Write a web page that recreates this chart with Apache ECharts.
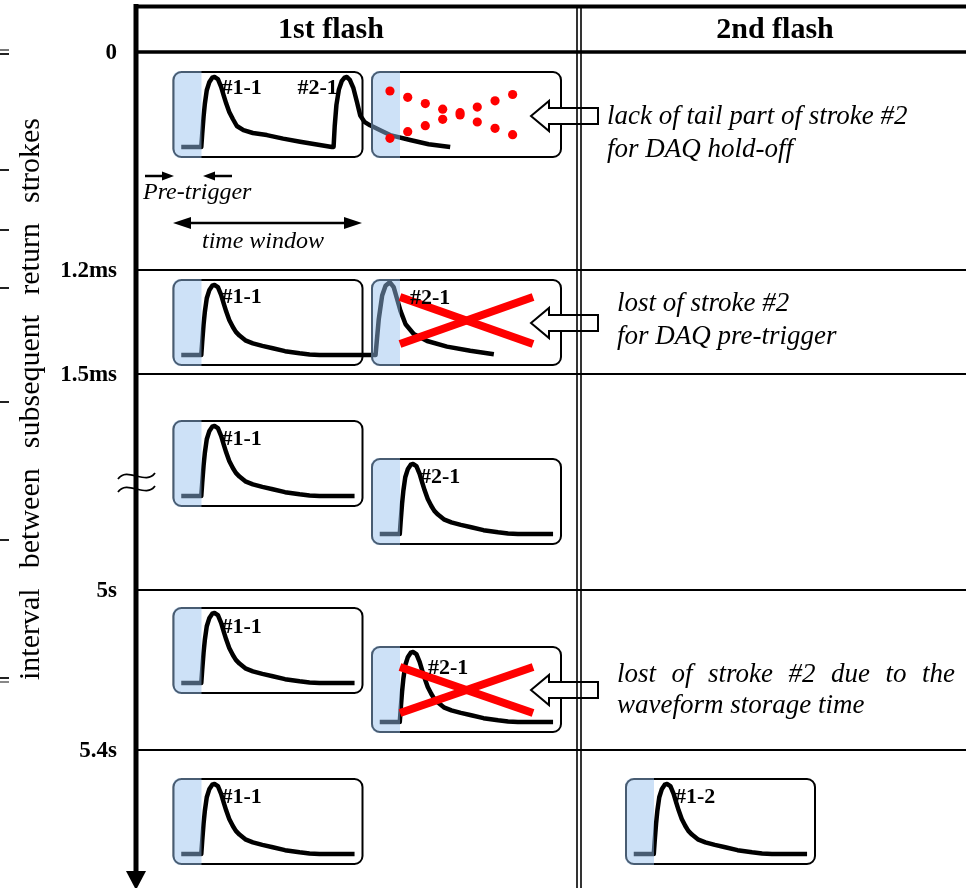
<!DOCTYPE html>
<html><head><meta charset="utf-8">
<script src="https://cdn.jsdelivr.net/npm/echarts@6/dist/echarts.min.js"></script>
<style>html,body{margin:0;padding:0;background:#fff}#c{width:972px;height:888px}</style>
</head><body><div id="c"></div>
<script>
// ---------------- data ----------------
const rowLabels = ['0', '1.2ms', '1.5ms', '5s', '5.4s'];
const flashHeaders = ['1st flash', '2nd flash'];
const axisTitle = 'interval between subsequent return strokes';
const strokeNames = ['#1-1', '#2-1', '#1-2'];
const noteLines = [
  ['lack of tail part of stroke #2', 'for DAQ hold-off'],
  ['lost of stroke #2', 'for DAQ pre-trigger'],
  ['lost of stroke #2 due to the', 'waveform storage time']
];
const preTriggerText = 'Pre-trigger';
const timeWindowText = 'time window';
// standard return-stroke waveform: time (% of window) / amplitude
const waveT = [4.1,14.7,15.2,15.9,16.6,17.6,19.0,20.5,21.7,23.5,25.2,26.5,27.9,29.5,31.4,33.0,34.9,38.0,42.0,47.0,52.5,59.0,66.7,72.0,77.2,95.8];
const waveA = [0,0,0.19,0.43,0.62,0.81,0.93,0.99,1.0,0.97,0.86,0.74,0.62,0.5,0.4,0.33,0.277,0.21,0.167,0.13,0.096,0.055,0.024,0.008,0,0];
// case 1 : stroke #2 inside the hold-off
const row1T = [4.1,14.7,15.2,15.9,16.6,17.6,19.0,20.5,21.7,23.5,25.2,26.5,27.9,29.5,31.4,33.5,37.0,42.0,49.4,58.0,67.0,75.0,83.8,84.7,85.3,86.2,87.5,89.0,90.5,91.7,93.3,95.2,97.0,98.8,101.0,104.0,109.4,114.6,125.2,135.0,146.4];
const row1A = [0,0,0.19,0.43,0.62,0.81,0.93,0.99,1.0,0.97,0.86,0.74,0.62,0.5,0.4,0.3,0.24,0.2,0.17,0.12,0.076,0.04,0,0,0.3,0.6,0.82,0.94,0.99,1.0,0.96,0.84,0.65,0.45,0.36,0.31,0.24,0.17,0.1,0.04,0];
// case 2 : stroke #2 inside the pre-trigger
const row2T = [4.1,14.7,15.2,15.9,16.6,17.6,19.0,20.5,21.7,23.5,25.2,26.5,27.9,29.5,31.4,33.0,34.9,38.0,42.0,47.0,52.5,59.0,66.7,72.0,77.2,106.9,108.6,110.4,112.2,114.4,116.5,118.3,120.1,122.8,127.1,134.2,144.7,157.0,169.5];
const row2A = [0,0,0.19,0.43,0.62,0.81,0.93,0.99,1.0,0.97,0.86,0.74,0.62,0.5,0.4,0.33,0.277,0.21,0.167,0.13,0.096,0.055,0.024,0.008,0,0,0.51,0.85,0.99,1.04,0.97,0.8,0.63,0.44,0.3,0.2,0.12,0.06,0.01];
// missing samples (red dots)
const dotT = [9.5,18.9,28.2,37.4,46.6,55.7,65.1,74.4];
const dotUpperA = [0.8,0.71,0.62,0.54,0.49,0.57,0.66,0.75];
const dotLowerA = [0.124,0.219,0.304,0.396,0.457,0.357,0.267,0.176];

// ---------------- layout ----------------
const SERIF = '"Liberation Serif", "Times New Roman", serif';
const F = {
  header: 'bold 30px ' + SERIF,
  row: 'bold 23px ' + SERIF,
  stroke: 'bold 22px ' + SERIF,
  note: 'italic 27px ' + SERIF,
  small: 'italic 24px ' + SERIF,
  title: '30px ' + SERIF
};
const LAY = {
  axisX: 136, axisTop: 4, axisEnd: 872, arrowTip: 890, arrowHalf: 10,
  right: 966, topY: 6.5, rowY: [52, 270, 374, 590, 750],
  divider: [577, 581], labelRight: 117,
  headerX: [331, 775], headerY: 30,
  boxW: 189, boxH: 85, shadeW: 28, base: 75, amp: 70,
  titleX: 31, titleTop: 118, titleBottom: 680,
  edgeMarks: [[50,'#777'],[54,'#222'],[170,'#222'],[230,'#222'],[288,'#222'],[402,'#222'],[540,'#222'],[678,'#222'],[682,'#888']]
};
const boxes = [
  {x:173.5, y:72,  trace:[row1T,row1A], labels:[[0,48,16],[1,124,16]]},
  {x:372,   y:72,  dots:true},
  {x:173.5, y:280, trace:[row2T,row2A], labels:[[0,48,17]]},
  {x:372,   y:280, labels:[[1,38,18]], cross:[14.8,0.83,85.2,0.157]},
  {x:173.5, y:421, trace:[waveT,waveA], labels:[[0,48,18]]},
  {x:372,   y:459, trace:[waveT,waveA], labels:[[1,48,18]]},
  {x:173.5, y:608, trace:[waveT,waveA], labels:[[0,48,19]]},
  {x:372,   y:647, trace:[waveT,waveA], labels:[[1,56,21]], cross:[14.8,0.786,85.2,0.129]},
  {x:173.5, y:779, trace:[waveT,waveA], labels:[[0,48,18]]},
  {x:626,   y:779, trace:[waveT,waveA], labels:[[2,49,18]]}
];
const notesLay = [
  {x:607, y:[117,150], arrowY:116},
  {x:617, y:[304,337], arrowY:323, },
  {x:617, y:[675,706], arrowY:690, justifyTo:955}
];

// ---------------- helpers ----------------
const mctx = document.createElement('canvas').getContext('2d');
function textW(t, font){ mctx.font = font; return mctx.measureText(t).width; }
function justify(text, font, len){
  const words = text.split(' ');
  const ws = words.map(w => textW(w, font));
  const tot = ws.reduce((s,v)=>s+v,0);
  const gap = words.length > 1 ? (len - tot)/(words.length-1) : 0;
  let p = 0; const out = [];
  words.forEach((w,i)=>{ out.push({text:w, start:p, width:ws[i]}); p += ws[i] + gap; });
  return out;
}
function mk(api){
  const P = (x,y) => api.coord([x,y]);
  return {
    P,
    line(x1,y1,x2,y2,w,c,extra){ const a=P(x1,y1), b=P(x2,y2);
      return {type:'line', shape:{x1:a[0],y1:a[1],x2:b[0],y2:b[1]}, style:Object.assign({stroke:c||'#000', lineWidth:w}, extra||{})}; },
    poly(pts, style){ return {type:'polygon', shape:{points:pts.map(p=>P(p[0],p[1]))}, style}; },
    text(x,y,t,font,align,rot){ const a=P(x,y);
      return {type:'text', x:a[0], y:a[1], rotation:rot||0,
        style:{text:t, font:font, fill:'#000', align:align||'left', verticalAlign:'middle', textAlign:align||'left', textVerticalAlign:'middle'}}; },
    boxPt(b,t,v){ return P(b.x + t/100*LAY.boxW, b.y + LAY.base - LAY.amp*v); }
  };
}
function layer(fn){
  return {type:'custom', coordinateSystem:'cartesian2d', clip:false, silent:true, animation:false,
    data:[[486,444]], renderItem:(params, api) => ({type:'group', children: fn(mk(api))})};
}

// ---------------- layers ----------------
const boxLayer = layer(h => boxes.map(b => {
  const a = h.P(b.x, b.y), c = h.P(b.x + LAY.boxW, b.y + LAY.boxH);
  return {type:'rect', shape:{x:a[0], y:a[1], width:c[0]-a[0], height:c[1]-a[1], r:8},
    style:{fill:'#fff', stroke:'#000', lineWidth:2}};
}));
const traceLayer = layer(h => boxes.filter(b => b.trace).map(b => ({
  type:'polyline', shape:{points: b.trace[0].map((t,i)=>h.boxPt(b, t, b.trace[1][i]))},
  style:{stroke:'#000', lineWidth:4.5, fill:null, lineJoin:'round', lineCap:'butt'}
})));
const shadeLayer = layer(h => boxes.map(b => {
  const a = h.P(b.x - 1, b.y - 1), c = h.P(b.x + LAY.shadeW, b.y + LAY.boxH + 1);
  return {type:'rect', shape:{x:a[0], y:a[1], width:c[0]-a[0], height:c[1]-a[1], r:[8,0,0,8]},
    style:{fill:'rgba(150,192,238,0.48)'}};
}));
const markLayer = layer(h => {
  const out = [];
  boxes.forEach(b => {
    if (b.dots) {
      [dotUpperA, dotLowerA].forEach(arr => arr.forEach((v,i) => {
        const p = h.boxPt(b, dotT[i], v);
        out.push({type:'circle', shape:{cx:p[0], cy:p[1], r:4.6}, style:{fill:'#ff0000'}});
      }));
    }
    if (b.cross) {
      const [t1,v1,t2,v2] = b.cross;
      const p1=h.boxPt(b,t1,v1), p2=h.boxPt(b,t2,v2), p3=h.boxPt(b,t1,v2), p4=h.boxPt(b,t2,v1);
      out.push({type:'line', shape:{x1:p1[0],y1:p1[1],x2:p2[0],y2:p2[1]}, style:{stroke:'#ff0000', lineWidth:8}});
      out.push({type:'line', shape:{x1:p3[0],y1:p3[1],x2:p4[0],y2:p4[1]}, style:{stroke:'#ff0000', lineWidth:8}});
    }
  });
  // hollow arrows pointing at the boxes
  notesLay.forEach(n => {
    const y = n.arrowY;
    out.push(h.poly([[531,y],[549,y-15],[549,y-8],[598,y-8],[598,y+8],[549,y+8],[549,y+15]],
      {fill:'#fff', stroke:'#000', lineWidth:2, lineJoin:'miter'}));
  });
  return out;
});
const frameLayer = layer(h => {
  const out = [];
  LAY.edgeMarks.forEach(m => out.push(h.line(0, m[0], 9, m[0], 2, m[1])));
  out.push(h.line(LAY.axisX - 2, LAY.topY, LAY.right, LAY.topY, 4));
  LAY.rowY.forEach((y,i) => out.push(h.line(LAY.axisX, y, LAY.right, y, i === 0 ? 3.5 : 2)));
  LAY.divider.forEach(x => out.push(h.line(x, LAY.topY, x, 888, 1.6)));
  out.push(h.line(LAY.axisX, LAY.axisTop, LAY.axisX, LAY.axisEnd, 5));
  out.push(h.poly([[LAY.axisX - LAY.arrowHalf, LAY.axisEnd - 1],[LAY.axisX + LAY.arrowHalf, LAY.axisEnd - 1],[LAY.axisX, LAY.arrowTip]], {fill:'#000'}));
  // axis break mark
  [476, 489].forEach(yc => {
    const s = h.P(118, yc + 3), e = h.P(155, yc - 3), c1 = h.P(127, yc - 10), c2 = h.P(146, yc + 10);
    out.push({type:'bezierCurve', shape:{x1:s[0],y1:s[1],x2:e[0],y2:e[1],cpx1:c1[0],cpy1:c1[1],cpx2:c2[0],cpy2:c2[1]},
      style:{stroke:'#000', lineWidth:1.8, fill:null}});
  });
  // pre-trigger arrows
  out.push(h.line(145, 176, 164, 176, 2.5));
  out.push(h.poly([[174,176],[162,171.5],[162,180.5]], {fill:'#000'}));
  out.push(h.line(213, 176, 232, 176, 2.5));
  out.push(h.poly([[203,176],[215,171.5],[215,180.5]], {fill:'#000'}));
  // time window arrow
  out.push(h.line(185, 223, 350, 223, 2.5));
  out.push(h.poly([[173,223],[191,217],[191,229]], {fill:'#000'}));
  out.push(h.poly([[362,223],[344,217],[344,229]], {fill:'#000'}));
  return out;
});
const textLayer = layer(h => {
  const out = [];
  flashHeaders.forEach((t,i) => out.push(h.text(LAY.headerX[i], LAY.headerY, t, F.header, 'center')));
  rowLabels.forEach((t,i) => out.push(h.text(LAY.labelRight, LAY.rowY[i] + 1, t, F.row, 'right')));
  boxes.forEach(b => (b.labels||[]).forEach(l => out.push(h.text(b.x + l[1], b.y + l[2], strokeNames[l[0]], F.stroke, 'left'))));
  noteLines.forEach((lines, k) => {
    const n = notesLay[k];
    lines.forEach((t, j) => {
      if (j === 0 && n.justifyTo) {
        justify(t, F.note, n.justifyTo - n.x).forEach(w => out.push(h.text(n.x + w.start, n.y[j], w.text, F.note, 'left')));
      } else out.push(h.text(n.x, n.y[j], t, F.note, 'left'));
    });
  });
  out.push(h.text(143, 193, preTriggerText, F.small, 'left'));
  out.push(h.text(202, 242, timeWindowText, F.small, 'left'));
  justify(axisTitle, F.title, LAY.titleBottom - LAY.titleTop).forEach(w => {
    out.push(h.text(LAY.titleX, LAY.titleBottom - w.start - w.width/2, w.text, F.title, 'center', Math.PI/2));
  });
  return out;
});

const chart = echarts.init(document.getElementById('c'), null, {renderer:'canvas'});
chart.setOption({
  animation: false,
  backgroundColor: '#fff',
  grid: {left:0, right:0, top:0, bottom:0},
  xAxis: {type:'value', min:0, max:972, show:false},
  yAxis: {type:'value', min:0, max:888, inverse:true, show:false},
  series: [boxLayer, traceLayer, shadeLayer, markLayer, frameLayer, textLayer]
});
</script>
</body></html>
